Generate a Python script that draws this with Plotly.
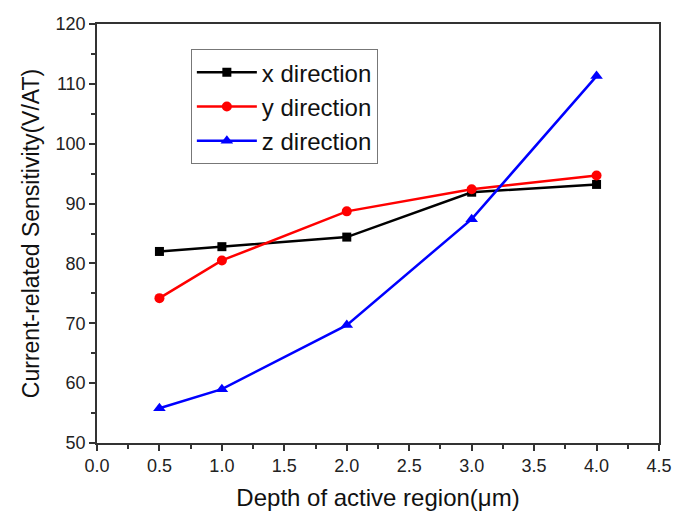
import plotly.graph_objects as go

depth = [0.5, 1.0, 2.0, 3.0, 4.0]
x_dir = [82.0, 82.8, 84.4, 91.9, 93.2]
y_dir = [74.2, 80.5, 88.7, 92.4, 94.7]
z_dir = [55.8, 59.0, 69.7, 87.4, 111.3]

series = [
    ("x direction", x_dir, "#000000", "square", 9),
    ("y direction", y_dir, "#ff0000", "circle", 10),
    ("z direction", z_dir, "#0000ff", "triangle-up", 11),
]

fig = go.Figure()
for name, vals, color, sym, sz in series:
    fig.add_trace(go.Scatter(
        x=depth, y=vals, name=name, mode="lines+markers",
        line=dict(color=color, width=2.5),
        marker=dict(symbol=sym, size=sz, color=color),
    ))

FONT = "Liberation Sans, Arial"
axis_common = dict(
    showline=True, linecolor="#333333", linewidth=1.5, mirror=True,
    ticks="outside", ticklen=6, tickwidth=1.5, tickcolor="#333333",
    showgrid=False, zeroline=False, automargin=False,
    tickfont=dict(family=FONT, size=18, color="#222222"),
)

fig.update_xaxes(
    range=[0, 4.5], dtick=0.5, tickformat=".1f",
    minor=dict(ticks="outside", ticklen=4, dtick=0.25, tickcolor="#333333", tickwidth=1.5),
    title=dict(text="Depth of active region(μm)", font=dict(family=FONT, size=24, color="#111111"), standoff=14),
    **axis_common,
)
fig.update_yaxes(
    range=[50, 120], dtick=10,
    minor=dict(ticks="outside", ticklen=4, dtick=5, tickcolor="#333333", tickwidth=1.5),
    title=dict(text="Current-related Sensitivity(V/AT)", font=dict(family=FONT, size=23, color="#111111"), standoff=10),
    **axis_common,
)

fig.update_layout(
    width=675, height=518,
    margin=dict(l=97, r=16, t=24, b=75),
    plot_bgcolor="white", paper_bgcolor="white",
    legend=dict(
        x=0.167, y=0.94, xanchor="left", yanchor="top",
        bordercolor="#777777", borderwidth=1, bgcolor="white",
        font=dict(family=FONT, size=24, color="#111111"),
        itemwidth=60, tracegroupgap=0,
    ),
    showlegend=True,
)

fig.write_html("out.html")
